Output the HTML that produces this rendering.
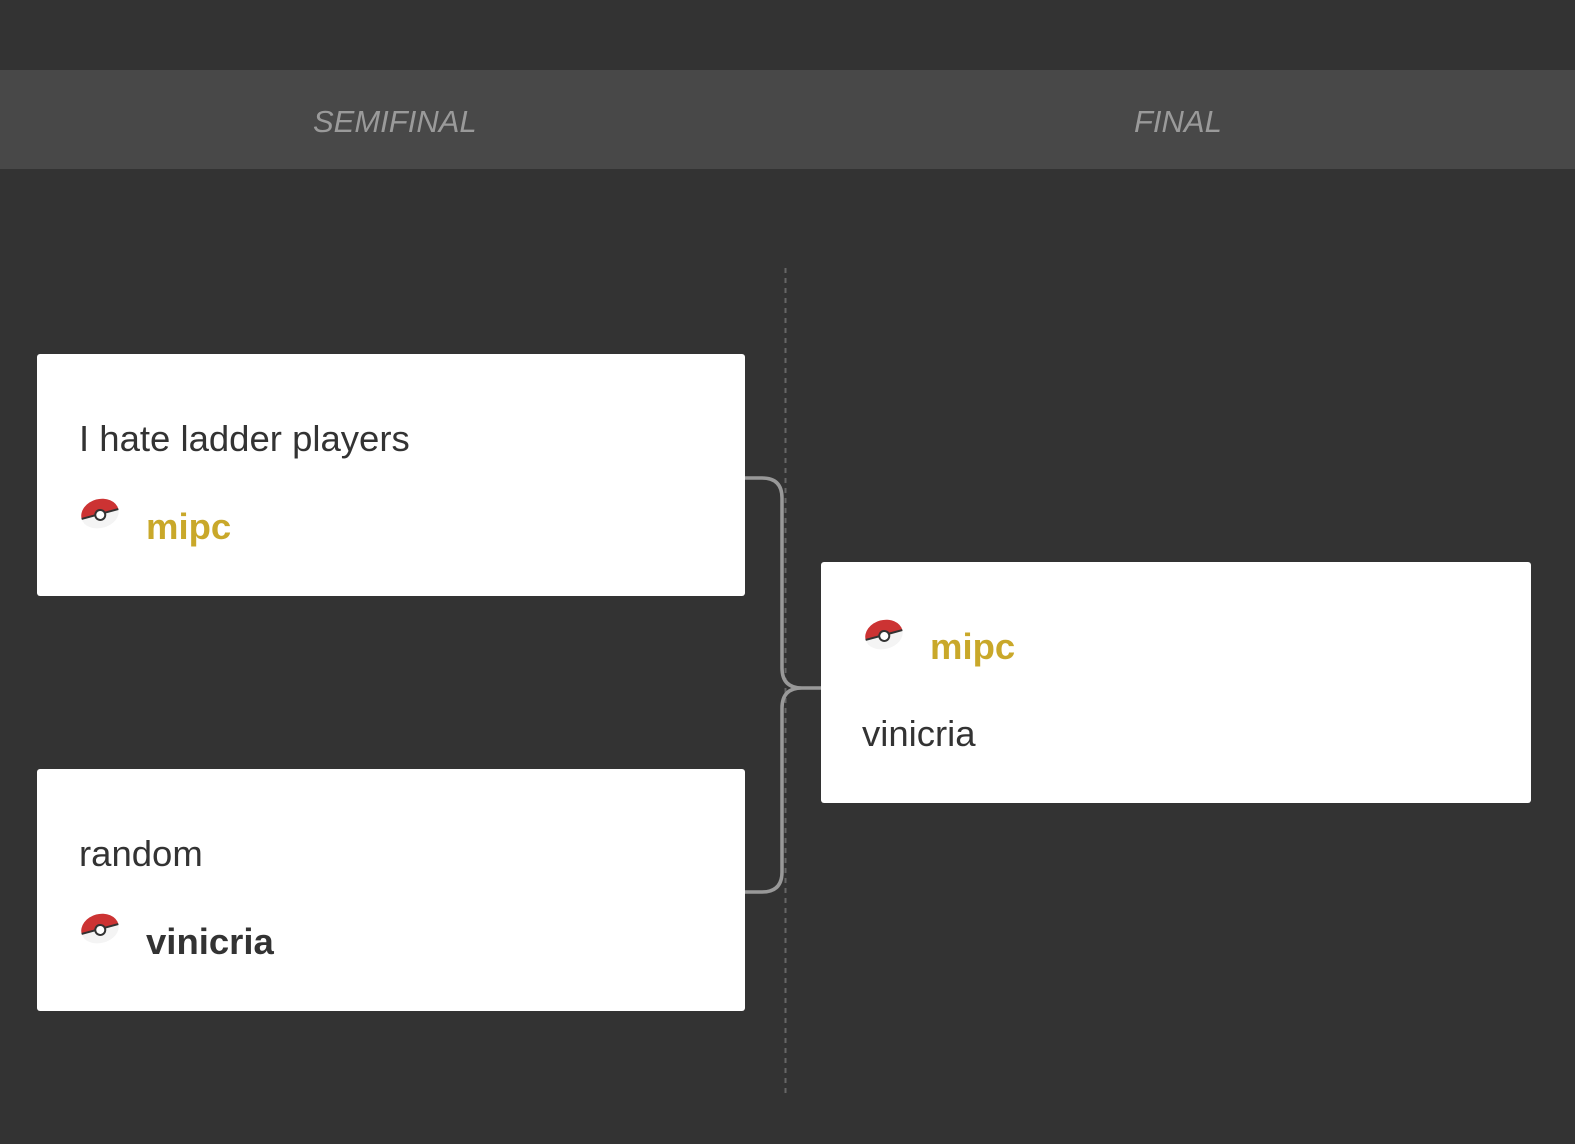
<!DOCTYPE html>
<html><head><meta charset="utf-8"><style>
body{margin:0;width:1575px;height:1144px;background:#333333;position:relative;overflow:hidden;font-family:"Liberation Sans",sans-serif;}
.hdr{position:absolute;left:0;top:70px;width:1575px;height:99px;background:#484848;}
.hl{position:absolute;top:104px;font-size:31px;font-style:italic;color:#9a9a9a;}
.card{position:absolute;background:#fff;border-radius:3px;}
.t{position:absolute;font-size:36.5px;color:#333;white-space:nowrap;}
.b{font-weight:bold;}
.g{color:#c9a82a;}
svg.pb{position:absolute;width:44px;height:40px;}
</style></head><body>
<div class="hdr"></div>
<div class="hl" style="left:313px">SEMIFINAL</div>
<div class="hl" style="left:1134px">FINAL</div>
<svg style="position:absolute;left:0;top:0" width="1575" height="1144">
<line x1="785.5" y1="268" x2="785.5" y2="1096" stroke="#666" stroke-width="2" stroke-dasharray="5,5"/>
<path d="M742 478 H762 Q782 478 782 498 V668 Q782 688 802 688 H827 M742 892 H762 Q782 892 782 872 V708 Q782 688 802 688" fill="none" stroke="#999" stroke-width="3.5"/>
</svg>
<div class="card" style="left:37px;top:354px;width:708px;height:242px"></div>
<div class="card" style="left:37px;top:769px;width:708px;height:242px"></div>
<div class="card" style="left:821px;top:562px;width:710px;height:241px"></div>
<div class="t" style="left:79px;top:418px">I hate ladder players</div>
<div class="t b g" style="left:146px;top:506px">mipc</div>
<div class="t" style="left:79px;top:833px">random</div>
<div class="t b" style="left:146px;top:921px">vinicria</div>
<div class="t b g" style="left:930px;top:626px">mipc</div>
<div class="t" style="left:862px;top:713px">vinicria</div>
<svg class="pb" style="left:78px;top:494px" viewBox="0 0 44 40"><g transform="rotate(-15 22 20)"><path d="M3 20 A19 15 0 0 1 41 20 Z" fill="#c33"/><path d="M3 20 A19 14 0 0 0 41 20 Z" fill="#f4f4f4"/><line x1="3" y1="20" x2="41" y2="20" stroke="#333" stroke-width="2"/><circle cx="22" cy="21" r="5" fill="#fff" stroke="#333" stroke-width="2"/></g></svg>
<svg class="pb" style="left:78px;top:909px" viewBox="0 0 44 40"><g transform="rotate(-15 22 20)"><path d="M3 20 A19 15 0 0 1 41 20 Z" fill="#c33"/><path d="M3 20 A19 14 0 0 0 41 20 Z" fill="#f4f4f4"/><line x1="3" y1="20" x2="41" y2="20" stroke="#333" stroke-width="2"/><circle cx="22" cy="21" r="5" fill="#fff" stroke="#333" stroke-width="2"/></g></svg>
<svg class="pb" style="left:862px;top:615px" viewBox="0 0 44 40"><g transform="rotate(-15 22 20)"><path d="M3 20 A19 15 0 0 1 41 20 Z" fill="#c33"/><path d="M3 20 A19 14 0 0 0 41 20 Z" fill="#f4f4f4"/><line x1="3" y1="20" x2="41" y2="20" stroke="#333" stroke-width="2"/><circle cx="22" cy="21" r="5" fill="#fff" stroke="#333" stroke-width="2"/></g></svg>
</body></html>
